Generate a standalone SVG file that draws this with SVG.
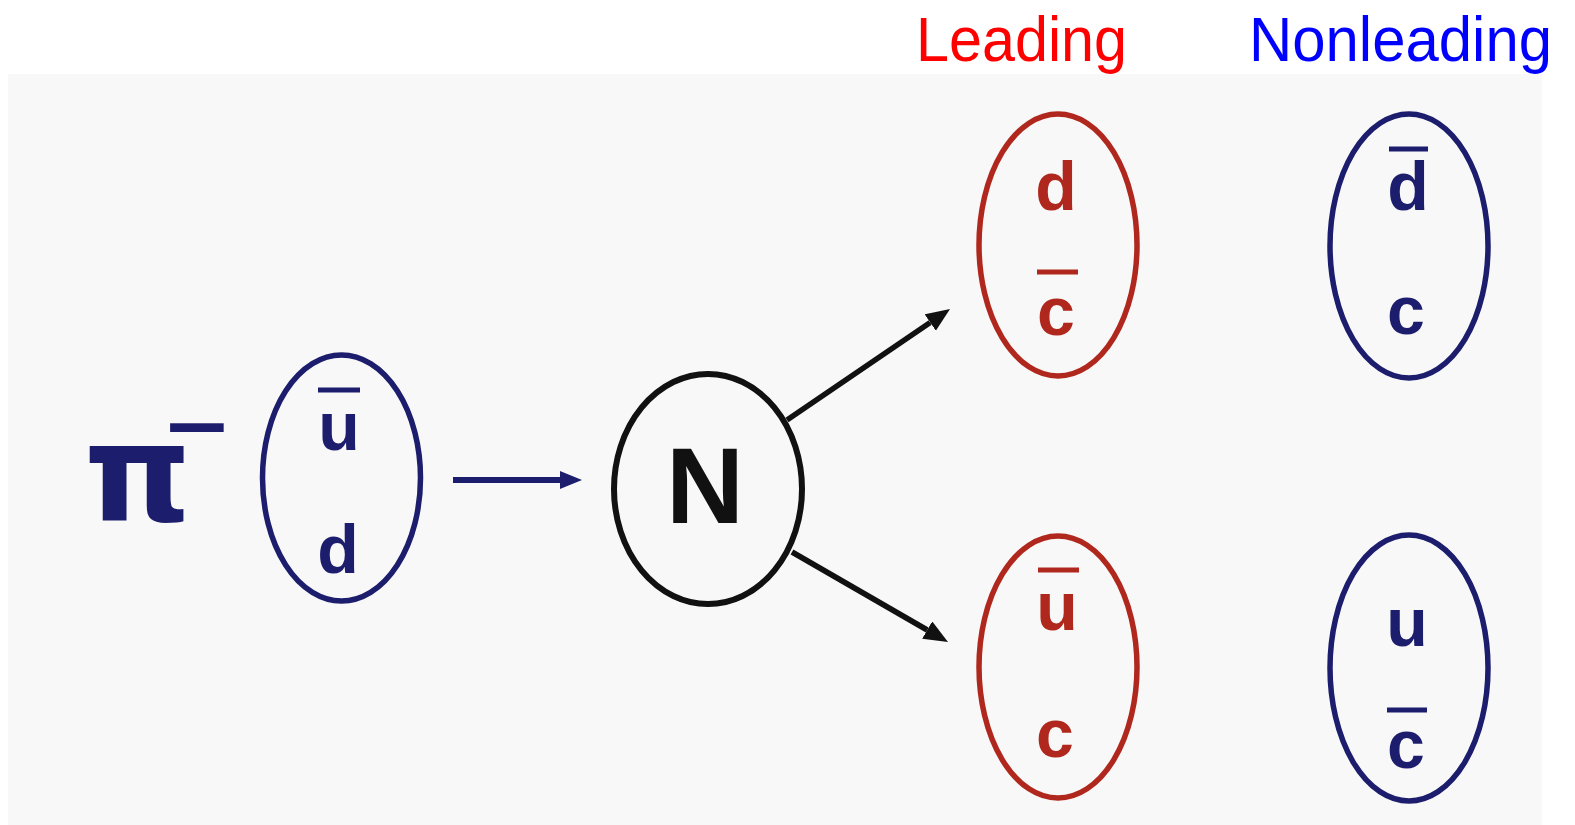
<svg xmlns="http://www.w3.org/2000/svg" width="1575" height="825" viewBox="0 0 1575 825">
  <style>
    .q { font-family: "Liberation Sans", Arial, sans-serif; font-weight: bold; font-size: 68px; text-anchor: middle; }
    .navy { fill: #1c1d6c; }
    .red { fill: #b0281d; }
    .ell { fill: none; stroke-width: 5.5; }
    .en { stroke: #1c1d6c; }
    .er { stroke: #b0281d; }
    .bar { stroke-width: 5; }
    .title { font-family: "Liberation Sans", Arial, sans-serif; font-size: 63px; }
  </style>
  <defs>
    <marker id="ahNavy" markerUnits="userSpaceOnUse" markerWidth="24" markerHeight="20" refX="0" refY="9" orient="auto">
      <path d="M0,0 L22,9 L0,18 Z" fill="#1c1d6c"/>
    </marker>
    <marker id="ahBlack" markerUnits="userSpaceOnUse" markerWidth="26" markerHeight="22" refX="0" refY="10" orient="auto">
      <path d="M0,0 L24,10 L0,20 Z" fill="#111"/>
    </marker>
  </defs>

  <rect x="0" y="0" width="1575" height="825" fill="#ffffff"/>
  <rect x="8" y="74" width="1534" height="751" fill="#f8f8f8"/>

  <g id="title-leading">
    <text class="title" x="916" y="61" fill="#ff0000" textLength="211" lengthAdjust="spacingAndGlyphs">Leading</text>
  </g>
  <g id="title-nonleading">
    <text class="title" x="1249" y="61" fill="#0000ff" textLength="303" lengthAdjust="spacingAndGlyphs">Nonleading</text>
  </g>

  <g id="pion">
    <text x="84 161" y="520" dy="0 -24" font-family="'DejaVu Sans', 'Liberation Sans', sans-serif" font-weight="bold" font-size="136" fill="#1c1d6c">π⁻</text>
  </g>

  <g id="pion-quarks">
    <ellipse class="ell en" cx="341.5" cy="478" rx="79" ry="123"/>
    <line class="bar en" x1="318" y1="390" x2="360" y2="390"/>
    <text class="q navy" x="339" y="450">u</text>
    <text class="q navy" x="338" y="573">d</text>
  </g>

  <g id="nucleon">
    <ellipse cx="708" cy="489" rx="94" ry="115" fill="none" stroke="#111" stroke-width="6"/>
    <text x="705" y="523" font-family="'Liberation Sans', Arial, sans-serif" font-weight="bold" font-size="108" text-anchor="middle" fill="#111">N</text>
  </g>

  <g id="leading-top">
    <ellipse class="ell er" cx="1058" cy="245" rx="79" ry="131"/>
    <text class="q red" x="1056" y="210">d</text>
    <line class="bar er" x1="1037" y1="272" x2="1078" y2="272"/>
    <text class="q red" x="1056" y="335">c</text>
  </g>

  <g id="nonleading-top">
    <ellipse class="ell en" cx="1409" cy="246" rx="79" ry="132"/>
    <line class="bar en" x1="1389" y1="149" x2="1428" y2="149"/>
    <text class="q navy" x="1408" y="210">d</text>
    <text class="q navy" x="1406" y="334">c</text>
  </g>

  <g id="leading-bottom">
    <ellipse class="ell er" cx="1058" cy="667" rx="79" ry="131"/>
    <line class="bar er" x1="1038" y1="570" x2="1079" y2="570"/>
    <text class="q red" x="1057" y="630">u</text>
    <text class="q red" x="1055" y="757">c</text>
  </g>

  <g id="nonleading-bottom">
    <ellipse class="ell en" cx="1409" cy="668" rx="79" ry="133"/>
    <text class="q navy" x="1407" y="646">u</text>
    <line class="bar en" x1="1387" y1="710" x2="1427" y2="710"/>
    <text class="q navy" x="1406" y="768">c</text>
  </g>

  <g id="connectors">
    <line x1="453" y1="480" x2="560" y2="480" stroke="#1c1d6c" stroke-width="6" marker-end="url(#ahNavy)"/>
    <line x1="787" y1="420" x2="930.2" y2="322.5" stroke="#111" stroke-width="5.5" marker-end="url(#ahBlack)"/>
    <line x1="792" y1="552" x2="927.2" y2="630" stroke="#111" stroke-width="5.5" marker-end="url(#ahBlack)"/>
  </g>
</svg>
